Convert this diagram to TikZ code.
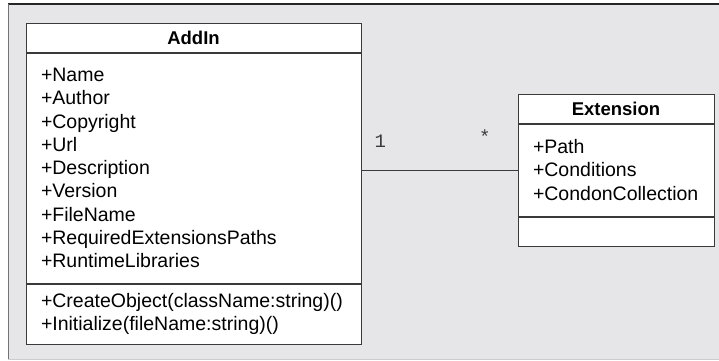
\documentclass[tikz,border=0pt]{standalone}
\usepackage{fontspec}
\setmainfont{Liberation Sans}
\newfontfamily\monofont{Liberation Mono}
\usepackage{xcolor}
\usetikzlibrary{positioning}

\definecolor{panelgray}{HTML}{E6E6E8}
\definecolor{linegray}{HTML}{3A3A3A}

\begin{document}
\begin{tikzpicture}[
        x=1pt, y=-1pt,
        head/.style={rectangle, draw=linegray, fill=white, line width=1pt, minimum height=29pt, inner sep=0pt, font=\fontsize{18.5}{23.3}\selectfont\bfseries},
        part/.style={rectangle, draw=linegray, fill=white, line width=1pt, inner xsep=15pt, inner ysep=0pt, align=left, font=\fontsize{19.5}{23.3}\selectfont},
        mult/.style={font=\monofont\fontsize{19}{20}\selectfont, inner sep=0pt}
        ]

        % panel behind the diagram
        \useasboundingbox (0,0) rectangle (719,360);
        \fill[panelgray] (8,4) rectangle (730,359);
        \draw[line width=1.2pt, black!85] (8,4) -- (730,4);
        \draw[line width=1pt, black!55] (8,4) -- (8,359);
        \draw[line width=1pt, black!20] (8,359) -- (730,359);

        % AddIn class
        \node[head, minimum width=335pt] (addin) at (193.5,37.5) {AddIn};
        \node[part, below=0pt of addin, text width=305pt, minimum height=230pt] (addinattr) {+Name\\+Author\\+Copyright\\+Url\\+Description\\+Version\\+FileName\\+RequiredExtensionsPaths\\+RuntimeLibraries};
        \node[part, below=0pt of addinattr, text width=305pt, minimum height=60pt] (addinops) {+CreateObject(className:string)()\\+Initialize(fileName:string)()};

        % Extension class
        \node[head, minimum width=196pt] (ext) at (616,108.5) {Extension};
        \node[part, below=0pt of ext, text width=166pt, minimum height=92pt] (extattr) {+Path\\+Conditions\\+CondonCollection};
        \node[part, below=0pt of extattr, text width=166pt, minimum height=29pt] (extops) {};

        % association
        \draw[line width=1pt, linegray] (addinattr.east |- extattr.west) -- (extattr.west)
            node[mult, pos=0.12, above=22pt] (one) {1}
            node[mult, pos=0.79, above=26pt] (many) {*};

    \end{tikzpicture}
\end{document}
